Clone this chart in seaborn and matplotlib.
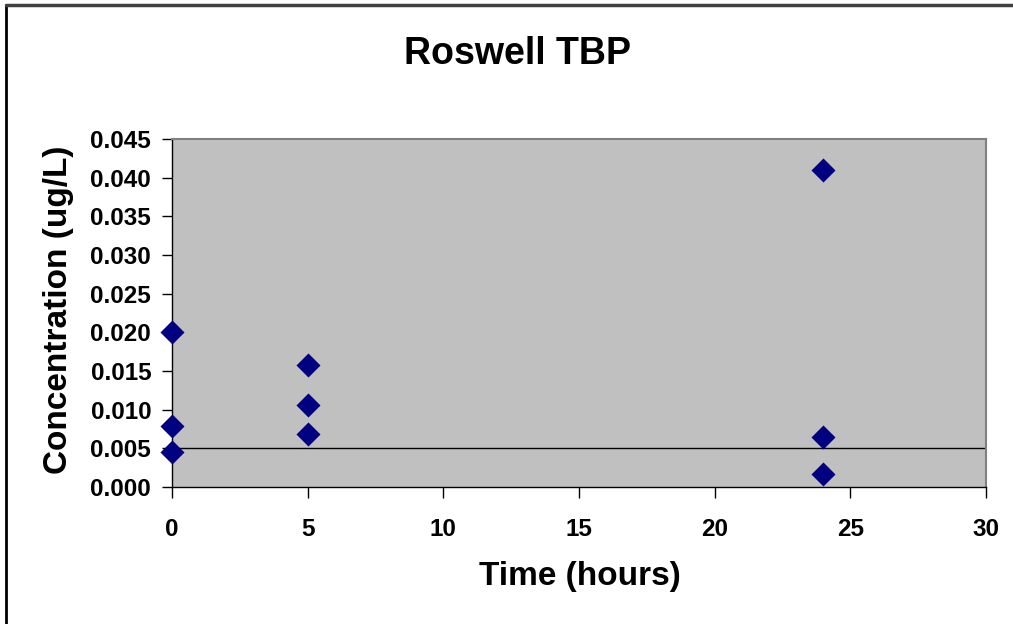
import matplotlib
matplotlib.use("Agg")
import matplotlib.pyplot as plt
from matplotlib.lines import Line2D
import seaborn as sns
import pandas as pd

# Sampling times (hours) and measured TBP concentrations (ug/L)
time_hours = [0, 0, 0, 5, 5, 5, 24, 24, 24]
concentration = [0.0201, 0.0079, 0.0045, 0.0158, 0.0106, 0.0069, 0.0410, 0.0065, 0.0017]
reference_level = 0.005

x_ticks = [0, 5, 10, 15, 20, 25, 30]
y_ticks = [0.000, 0.005, 0.010, 0.015, 0.020, 0.025, 0.030, 0.035, 0.040, 0.045]

df = pd.DataFrame({"Time (hours)": time_hours, "Concentration (ug/L)": concentration})

sns.set_style("white", {"xtick.bottom": True, "ytick.left": True,
                        "text.color": "black", "axes.labelcolor": "black",
                        "xtick.color": "black", "ytick.color": "black"})
plt.rcParams["font.family"] = ["Liberation Sans", "DejaVu Sans"]
plt.rcParams["font.weight"] = "bold"

fig = plt.figure(figsize=(10.13, 6.24), dpi=100)
ax = fig.add_axes([172 / 1013, 1 - 487 / 624, (986 - 172) / 1013, (487 - 139) / 624])
ax.set_facecolor("#C0C0C0")

ax.axhline(reference_level, color="black", linewidth=1.0, zorder=2)

sns.scatterplot(data=df, x="Time (hours)", y="Concentration (ug/L)", ax=ax,
                marker="D", s=150, color="#000080", edgecolor="#000080",
                linewidth=0, zorder=3, clip_on=False)

ax.set_xlim(0, 30)
ax.set_ylim(0, 0.045)
ax.set_xticks(x_ticks)
ax.set_yticks(y_ticks)
ax.set_xticklabels([str(v) for v in x_ticks], fontsize=17.5, fontweight="bold", color="black")
ax.set_yticklabels([f"{v:.3f}" for v in y_ticks], fontsize=17.5, fontweight="bold", color="black")
ax.tick_params(axis="x", bottom=True, direction="out", length=8, width=1, color="black", pad=14)
ax.tick_params(axis="y", left=True, direction="out", length=7, width=1, color="black", pad=8)
ax.grid(False)

for side in ["left", "bottom"]:
    ax.spines[side].set_color("black")
    ax.spines[side].set_linewidth(1.0)
for side in ["top", "right"]:
    ax.spines[side].set_color("#808080")
    ax.spines[side].set_linewidth(1.5)

ax.set_xlabel("")
ax.set_ylabel("")
fig.text(580 / 1013, 1 - 577 / 624, "Time (hours)", ha="center", va="center",
         fontsize=24, fontweight="bold", color="black")
fig.text(58 / 1013, 1 - 310 / 624, "Concentration (ug/L)", ha="center", va="center",
         rotation=90, fontsize=24, fontweight="bold", color="black")
fig.text(517 / 1013, 1 - 54 / 624, "Roswell TBP", ha="center", va="center",
         fontsize=27, fontweight="bold", color="black")

# Outer chart frame (left and top edges)
fig.add_artist(Line2D([6 / 1013, 6 / 1013], [0, 1 - 5 / 624], transform=fig.transFigure,
                      color="black", linewidth=2))
fig.add_artist(Line2D([6 / 1013, 1], [1 - 5 / 624, 1 - 5 / 624], transform=fig.transFigure,
                      color="#404040", linewidth=2.5))

fig.savefig("out.png", dpi=100)
